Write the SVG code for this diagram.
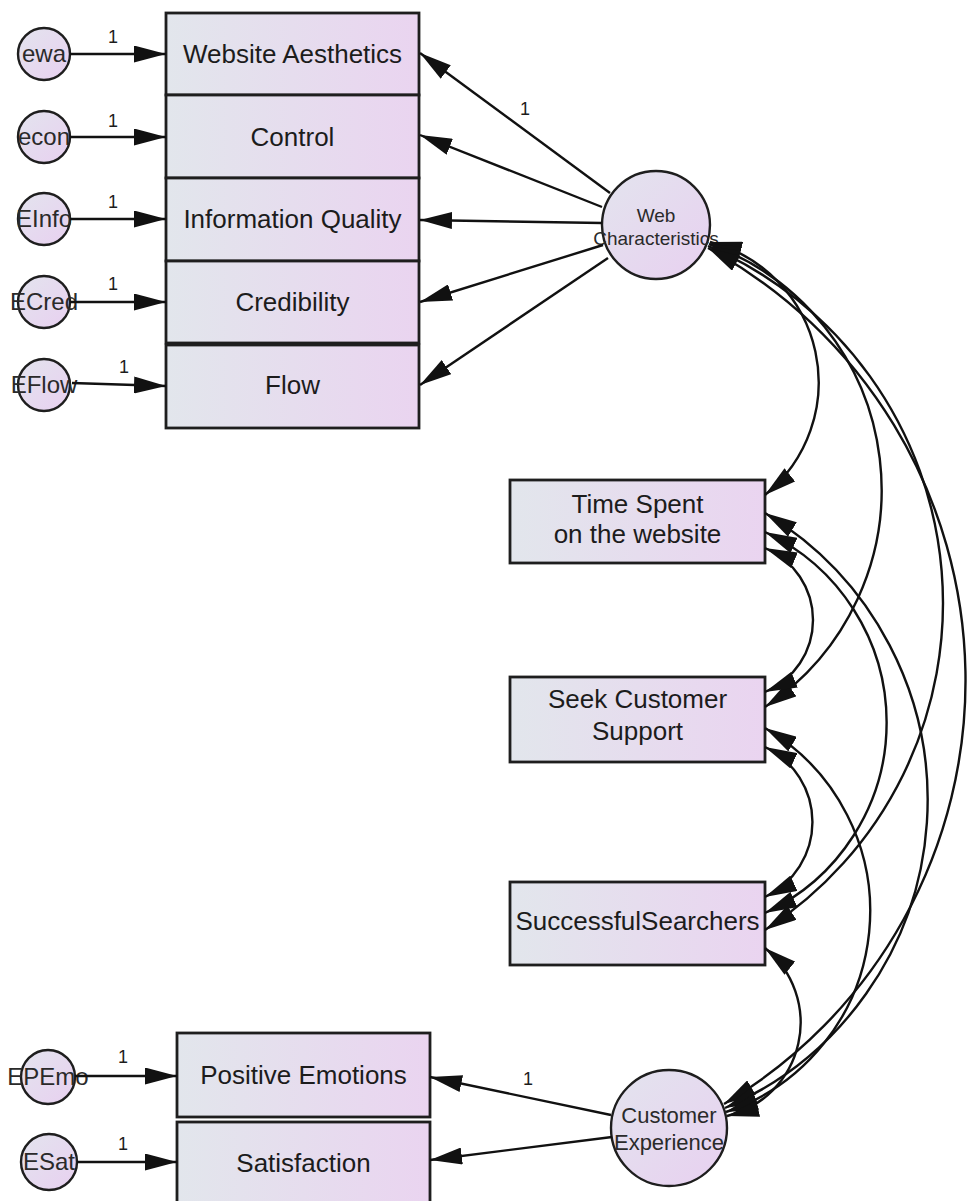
<svg xmlns="http://www.w3.org/2000/svg" width="967" height="1201" viewBox="0 0 967 1201">
  <style>
    .box { fill: url(#boxFill); stroke: #1e1e1e; stroke-width: 2.8; }
    .lat { fill: url(#circFill); stroke: #1e1e1e; stroke-width: 2.4; }
    .lbl { font-family: "Liberation Sans", Arial, sans-serif; font-size: 26px; fill: #1c1c1c; text-anchor: middle; }
    .elbl { font-family: "Liberation Sans", Arial, sans-serif; font-size: 24px; fill: #2a2a2a; text-anchor: middle; }
    .llbl { font-family: "Liberation Sans", Arial, sans-serif; font-size: 22px; fill: #2a2a2a; text-anchor: middle; }
    .wlbl { font-family: "Liberation Sans", Arial, sans-serif; font-size: 19px; fill: #2a2a2a; text-anchor: middle; }
    .num { font-family: "Liberation Sans", Arial, sans-serif; font-size: 18px; fill: #1c1c1c; text-anchor: middle; }
    .path { fill: none; stroke: #111; stroke-width: 2.4; marker-end: url(#head); }
    .cov { fill: none; stroke: #111; stroke-width: 2.4; marker-start: url(#head); marker-end: url(#head); }
  </style>
  <defs>
    <linearGradient id="boxFill" x1="0" y1="0" x2="1" y2="0">
      <stop offset="0" stop-color="#e2e6ec"/>
      <stop offset="1" stop-color="#ead4f0"/>
    </linearGradient>
    <linearGradient id="circFill" x1="0" y1="0" x2="1" y2="1">
      <stop offset="0" stop-color="#e3e4ee"/>
      <stop offset="1" stop-color="#e8d0f0"/>
    </linearGradient>
    <marker id="head" viewBox="0 0 32 17" refX="32" refY="8.5" markerWidth="32" markerHeight="17" markerUnits="userSpaceOnUse" orient="auto-start-reverse">
      <path d="M0,0 L32,8.5 L0,17 z" fill="#111"/>
    </marker>
  </defs>

  <rect width="967" height="1201" fill="#ffffff"/>

  <!-- observed indicators of Web Characteristics -->
  <g id="website-aesthetics"><rect class="box" x="166" y="13" width="253" height="82"/><text class="lbl" x="292.5" y="63">Website Aesthetics</text></g>
  <g id="control"><rect class="box" x="166" y="95" width="253" height="83"/><text class="lbl" x="292.5" y="146">Control</text></g>
  <g id="information-quality"><rect class="box" x="166" y="178" width="253" height="83"/><text class="lbl" x="292.5" y="228">Information Quality</text></g>
  <g id="credibility"><rect class="box" x="166" y="261" width="253" height="82"/><text class="lbl" x="292.5" y="311">Credibility</text></g>
  <g id="flow"><rect class="box" x="166" y="345" width="253" height="83"/><text class="lbl" x="292.5" y="394">Flow</text></g>

  <!-- error terms -->
  <g id="ewa"><circle class="lat" cx="44" cy="54" r="26"/><text class="elbl" x="44" y="62">ewa</text></g>
  <g id="econ"><circle class="lat" cx="44" cy="137" r="26"/><text class="elbl" x="44" y="145">econ</text></g>
  <g id="EInfo"><circle class="lat" cx="44" cy="219" r="26"/><text class="elbl" x="44" y="227">EInfo</text></g>
  <g id="ECred"><circle class="lat" cx="44" cy="302" r="26"/><text class="elbl" x="44" y="310">ECred</text></g>
  <g id="EFlow"><circle class="lat" cx="44" cy="385" r="26"/><text class="elbl" x="44" y="393">EFlow</text></g>

  <!-- latent: Web Characteristics -->
  <g id="web-characteristics"><circle class="lat" cx="656" cy="225" r="54"/><text class="wlbl" x="656" y="222">Web</text><text class="wlbl" x="656" y="245">Characteristics</text></g>

  <!-- exogenous observed -->
  <g id="time-spent"><rect class="box" x="510" y="480" width="255" height="83"/><text class="lbl" x="637.5" y="513">Time Spent</text><text class="lbl" x="637.5" y="543">on the website</text></g>
  <g id="seek-customer-support"><rect class="box" x="510" y="677" width="255" height="85"/><text class="lbl" x="637.5" y="708">Seek Customer</text><text class="lbl" x="637.5" y="740">Support</text></g>
  <g id="successful-searchers"><rect class="box" x="510" y="882" width="255" height="83"/><text class="lbl" x="637.5" y="930">SuccessfulSearchers</text></g>

  <!-- latent: Customer Experience and indicators -->
  <g id="customer-experience"><circle class="lat" cx="669" cy="1128" r="58"/><text class="llbl" x="669" y="1123">Customer</text><text class="llbl" x="669" y="1150">Experience</text></g>
  <g id="positive-emotions"><rect class="box" x="177" y="1033" width="253" height="84"/><text class="lbl" x="303.5" y="1084">Positive Emotions</text></g>
  <g id="satisfaction"><rect class="box" x="177" y="1122" width="253" height="84"/><text class="lbl" x="303.5" y="1172">Satisfaction</text></g>
  <g id="EPEmo"><circle class="lat" cx="48" cy="1077" r="27"/><text class="elbl" x="48" y="1085">EPEmo</text></g>
  <g id="ESat"><circle class="lat" cx="49" cy="1162" r="28"/><text class="elbl" x="49" y="1170">ESat</text></g>

  <!-- connectors -->
  <g id="connectors">
    <!-- error paths -->
    <line class="path" x1="70" y1="54" x2="166" y2="54"/>
    <line class="path" x1="70" y1="137" x2="166" y2="137"/>
    <line class="path" x1="70" y1="219" x2="166" y2="219"/>
    <line class="path" x1="70" y1="302" x2="166" y2="302"/>
    <line class="path" x1="72" y1="383" x2="166" y2="386"/>
    <line class="path" x1="75" y1="1076" x2="177" y2="1076"/>
    <line class="path" x1="77" y1="1162" x2="177" y2="1162"/>
    <!-- factor loadings -->
    <line class="path" x1="610" y1="193" x2="420" y2="53"/>
    <line class="path" x1="602" y1="207" x2="420" y2="135"/>
    <line class="path" x1="602" y1="223" x2="420" y2="220"/>
    <line class="path" x1="603" y1="245" x2="420" y2="302"/>
    <line class="path" x1="608" y1="258" x2="420" y2="385"/>
    <line class="path" x1="611" y1="1115" x2="430" y2="1077"/>
    <line class="path" x1="612" y1="1137" x2="430" y2="1160"/>
    <!-- covariances -->
    <path class="cov" d="M710,242 A145,145 0 0 1 765,495"/>
    <path class="cov" d="M709,244 A261,261 0 0 1 765,707"/>
    <path class="cov" d="M708,246 A389,389 0 0 1 765,930"/>
    <path class="cov" d="M708,248 A492,492 0 0 1 724,1104"/>
    <path class="cov" d="M765,548 A78,78 0 0 1 765,692"/>
    <path class="cov" d="M765,532 A210,210 0 0 1 765,913"/>
    <path class="cov" d="M765,513 A335,335 0 0 1 725,1108"/>
    <path class="cov" d="M765,747 A83,83 0 0 1 765,897"/>
    <path class="cov" d="M765,728 A212,212 0 0 1 726,1112"/>
    <path class="cov" d="M765,948 A96,96 0 0 1 727,1116"/>
    <!-- fixed parameter labels -->
    <text class="num" x="113" y="43">1</text>
    <text class="num" x="113" y="127">1</text>
    <text class="num" x="113" y="208">1</text>
    <text class="num" x="113" y="290">1</text>
    <text class="num" x="124" y="373">1</text>
    <text class="num" x="123" y="1063">1</text>
    <text class="num" x="123" y="1150">1</text>
    <text class="num" x="525" y="115">1</text>
    <text class="num" x="528" y="1085">1</text>
  </g>
</svg>
